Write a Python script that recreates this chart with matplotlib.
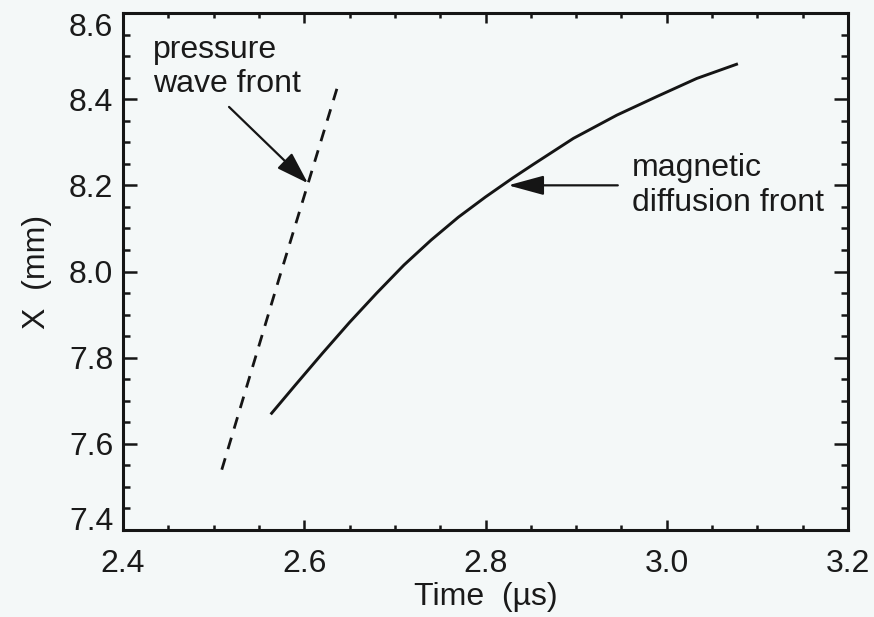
import matplotlib
matplotlib.use('Agg')
import matplotlib.pyplot as plt
from matplotlib.ticker import MultipleLocator, FormatStrFormatter

plt.rcParams['font.family'] = ['Liberation Sans', 'DejaVu Sans']

# pressure wave front (dashed)
t_pressure = [2.509, 2.572, 2.636]
x_pressure = [7.540, 7.982, 8.424]

# magnetic diffusion front (solid)
t_magnetic = [2.564, 2.590, 2.620, 2.650, 2.680, 2.710, 2.740, 2.770, 2.800,
              2.830, 2.853, 2.897, 2.945, 2.989, 3.033, 3.077]
x_magnetic = [7.671, 7.736, 7.810, 7.882, 7.950, 8.015, 8.073, 8.126, 8.173,
              8.217, 8.249, 8.309, 8.363, 8.406, 8.448, 8.481]

x_ticks = [2.4, 2.6, 2.8, 3.0, 3.2]
y_ticks = [7.4, 7.6, 7.8, 8.0, 8.2, 8.4, 8.6]

bg = '#f4f8f8'
ink = '#151515'
fs = 23

fig = plt.figure(figsize=(8.74, 6.17), dpi=100, facecolor=bg)
ax = fig.add_axes([123/874, 1 - 530/617, 725/874, 517/617], facecolor=bg)

ax.plot(t_pressure, x_pressure, color=ink, lw=2.0, ls=(0, (4.3, 3.42)))
ax.plot(t_magnetic, x_magnetic, color=ink, lw=2.1, solid_joinstyle='round')

ax.set_xlim(2.4, 3.2)
ax.set_ylim(7.4, 8.6)
ax.set_xticks(x_ticks)
ax.set_yticks(y_ticks)
ax.xaxis.set_minor_locator(MultipleLocator(0.05))
ax.yaxis.set_minor_locator(MultipleLocator(0.05))
ax.xaxis.set_major_formatter(FormatStrFormatter('%.1f'))
ax.yaxis.set_major_formatter(FormatStrFormatter('%.1f'))

for s in ax.spines.values():
    s.set_linewidth(2.2)
    s.set_color(ink)

ax.tick_params(axis='both', which='both', direction='in', top=True, right=True,
               color=ink, labelsize=fs, labelcolor='#1a1a1a')
ax.tick_params(axis='x', which='major', length=7, width=1.8, pad=14)
ax.tick_params(axis='x', which='minor', length=3.5, width=1.8)
ax.tick_params(axis='y', which='major', length=10, width=1.8, pad=7)
ax.tick_params(axis='y', which='minor', length=5, width=1.8)

# end labels on the y axis sit inside the frame
ylabels = ax.get_yticklabels()
ylabels[0].set_verticalalignment('baseline')
ylabels[-1].set_verticalalignment('top')

ax.set_xlabel('Time  (µs)', fontsize=fs, color='#1a1a1a', labelpad=2)
ax.set_ylabel('X  (mm)', fontsize=fs, color='#1a1a1a', labelpad=12)

ax.text(2.433, 8.475, 'pressure\nwave front', fontsize=fs, color='#1a1a1a',
        ha='left', va='center', linespacing=1.2)
ax.annotate('', xy=(2.604, 8.205), xytext=(2.517, 8.382),
            arrowprops=dict(arrowstyle='-|>,head_length=2.0,head_width=0.65',
                            mutation_scale=10, color=ink, lw=1.6,
                            shrinkA=0, shrinkB=0))

ax.text(2.962, 8.2, 'magnetic\ndiffusion front', fontsize=fs, color='#1a1a1a',
        ha='left', va='center', linespacing=1.2)
ax.annotate('', xy=(2.825, 8.2), xytext=(2.946, 8.2),
            arrowprops=dict(arrowstyle='-|>,head_length=2.2,head_width=0.6',
                            mutation_scale=10, color=ink, lw=1.6,
                            shrinkA=0, shrinkB=0))

fig.savefig('out.png', dpi=100, facecolor=bg)
